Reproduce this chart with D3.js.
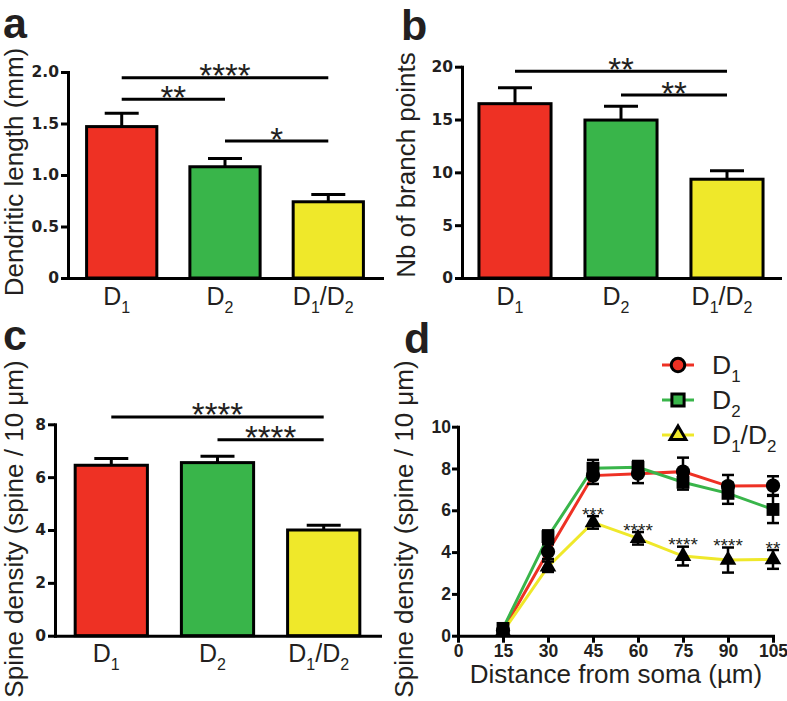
<!DOCTYPE html>
<html>
<head>
<meta charset="utf-8">
<script src="https://cdn.jsdelivr.net/npm/d3@7"></script>
<style>
  body { margin: 0; background: #fff; }
  svg text { font-family: "Liberation Sans", Arial, sans-serif; fill: #231f20; }
  .bartick text { font-family: "DejaVu Sans", sans-serif; font-weight: bold; font-size: 15.5px; }
  .dtick text { font-family: "Liberation Sans", Arial, sans-serif; font-weight: bold; font-size: 17.5px; }
</style>
</head>
<body>
<svg id="fig" width="787" height="701"></svg>
<script>
// groups (label = main letter + subscripts)
const groups = ["D1", "D2", "D1/D2"];
const groupParts = [[["D", 0], ["1", 1]], [["D", 0], ["2", 1]], [["D", 0], ["1", 1], ["/D", 0], ["2", 1]]];
const groupColors = ["#ee3124", "#39b54a", "#efe82a"];

// a - dendritic length (mm)
const lengthMean = [1.47, 1.08, 0.74];
const lengthSem = [0.13, 0.08, 0.07];
const lengthSig = [["D1", "D2", 1.735, "**"], ["D1", "D1/D2", 1.945, "****"], ["D2", "D1/D2", 1.33, "*"]];

// b - branch points
const branchMean = [16.5, 14.95, 9.35];
const branchSem = [1.5, 1.3, 0.8];
const branchSig = [["D1", "D1/D2", 19.58, "**"], ["D2", "D1/D2", 17.31, "**"]];

// c - spine density
const densityMean = [6.45, 6.55, 4.0];
const densitySem = [0.26, 0.24, 0.18];
const densitySig = [["D1", "D1/D2", 8.28, "****"], ["D2", "D1/D2", 7.42, "****"]];

// d - spine density vs distance from soma
const distance = [15, 30, 45, 60, 75, 90, 105];
const d1Density = [0.25, 4.02, 7.66, 7.75, 7.85, 7.16, 7.18];
const d1Sem = [0.15, 0.35, 0.4, 0.45, 0.67, 0.53, 0.45];
const d2Density = [0.35, 4.74, 8.01, 8.06, 7.34, 6.81, 6.04];
const d2Sem = [0.2, 0.3, 0.4, 0.3, 0.35, 0.5, 0.65];
const d12Density = [0.2, 3.3, 5.42, 4.66, 3.81, 3.62, 3.65];
const d12Sem = [0.1, 0.25, 0.3, 0.3, 0.45, 0.6, 0.45];
const distSig = ["", "", "***", "****", "****", "****", "**"];
const distTicks = [0, 15, 30, 45, 60, 75, 90, 105];
const densityTicks = [0, 2, 4, 6, 8, 10];

const svg = d3.select("#fig");

function groupLabel(g, x, y, parts, size) {
    const t = g.append("text").attr("x", x).attr("y", y)
        .attr("text-anchor", "middle").style("font-size", size + "px");
    let sub = false;
    parts.forEach(([s, isSub]) => {
        const ts = t.append("tspan").text(s);
        if (isSub && !sub) { ts.attr("dy", size * 0.32).style("font-size", (size * 0.64) + "px"); sub = true; }
        else if (isSub) { ts.style("font-size", (size * 0.64) + "px"); }
        else if (sub) { ts.attr("dy", -size * 0.32); sub = false; }
    });
    return t;
}

function yTitle(xBase, yMid, txt) {
    svg.append("text")
        .attr("transform", "translate(" + xBase + "," + yMid + ") rotate(-90)")
        .attr("text-anchor", "middle")
        .style("font-size", "26px")
        .text(txt);
}

function panelLetter(x, y, l) {
    svg.append("text").attr("x", x).attr("y", y)
        .style("font-size", "43px").style("font-weight", "bold").text(l);
}

function barPanel(o) {
    const g = svg.append("g");
    const y = d3.scaleLinear().domain([0, o.yMax]).range([o.base, o.top]);
    const x = d3.scalePoint().domain(groups).range([o.left, o.right]).padding(o.pad);
    const bw = x.step() * 0.68;

    // bars
    g.selectAll("rect.bar").data(groups).enter().append("rect")
        .attr("x", d => x(d) - bw / 2)
        .attr("y", (d, i) => y(o.means[i]))
        .attr("width", bw)
        .attr("height", (d, i) => o.base - y(o.means[i]))
        .attr("fill", (d, i) => groupColors[i])
        .attr("stroke", "#000").attr("stroke-width", 3);

    // error bars (upper only)
    groups.forEach((d, i) => {
        const top = y(o.means[i] + o.sems[i]);
        g.append("line").attr("x1", x(d)).attr("x2", x(d))
            .attr("y1", y(o.means[i])).attr("y2", top)
            .attr("stroke", "#000").attr("stroke-width", 3);
        g.append("line").attr("x1", x(d) - 17).attr("x2", x(d) + 17)
            .attr("y1", top).attr("y2", top)
            .attr("stroke", "#000").attr("stroke-width", 3);
    });

    // axes
    const ya = g.append("g").attr("class", "bartick")
        .attr("transform", "translate(" + o.left + ",0)")
        .call(d3.axisLeft(y).tickValues(o.ticks).tickFormat(o.fmt).tickSize(7).tickSizeOuter(0).tickPadding(2));
    const xa = g.append("g")
        .attr("transform", "translate(0," + o.base + ")")
        .call(d3.axisBottom(x).tickSize(0).tickSizeOuter(0).tickFormat(""));
    [ya, xa].forEach(a => {
        a.select(".domain").attr("stroke-width", 3).attr("stroke-linecap", "square");
        a.selectAll(".tick line").attr("stroke-width", 3);
        a.selectAll(".tick text").style("fill", "#231f20");
    });

    // category labels
    groups.forEach((d, i) => groupLabel(g, x(d) - 5, o.labelY, groupParts[i], 25));

    // significance brackets
    o.sigs.forEach(([a, b, v, s]) => {
        const ly = y(v);
        g.append("line").attr("x1", x(a)).attr("x2", x(b))
            .attr("y1", ly).attr("y2", ly)
            .attr("stroke", "#000").attr("stroke-width", 3);
        g.append("text").attr("x", (x(a) + x(b)) / 2).attr("y", ly + 9.5)
            .attr("text-anchor", "middle").style("font-size", "33px").text(s);
    });
}

// ---- a
panelLetter(3, 38, "a");
yTitle(22.5, 172, "Dendritic length (mm)");
barPanel({left: 68, right: 382, base: 278, top: 72, yMax: 2, pad: 0.52,
    ticks: [0, 0.5, 1, 1.5, 2], fmt: d => d === 0 ? "0" : d3.format(".1f")(d),
    means: lengthMean, sems: lengthSem, sigs: lengthSig, labelY: 305});

// ---- b
panelLetter(401, 40, "b");
yTitle(414.5, 165, "Nb of branch points");
barPanel({left: 462, right: 780, base: 278, top: 66.7, yMax: 20, pad: 0.5,
    ticks: [0, 5, 10, 15, 20], fmt: d3.format("d"),
    means: branchMean, sems: branchSem, sigs: branchSig, labelY: 305});

// ---- c
panelLetter(3, 350, "c");
yTitle(22.5, 529, "Spine density (spine / 10 \u03bcm)");
barPanel({left: 55, right: 380, base: 635.7, top: 424.3, yMax: 8, pad: 0.53,
    ticks: [0, 2, 4, 6, 8], fmt: d3.format("d"),
    means: densityMean, sems: densitySem, sigs: densitySig, labelY: 662});

// ---- d
panelLetter(404, 353, "d");
yTitle(412.5, 529, "Spine density (spine / 10 \u03bcm)");
(function () {
    const g = svg.append("g");
    const x = d3.scaleLinear().domain([0, 105]).range([458, 773]);
    const y = d3.scaleLinear().domain([0, 10]).range([635.7, 426.7]);

    const series = [
        {name: groupParts[0], mean: d1Density, sem: d1Sem, color: groupColors[0], sym: d3.symbolCircle, size: 160},
        {name: groupParts[1], mean: d2Density, sem: d2Sem, color: groupColors[1], sym: d3.symbolSquare, size: 165},
        {name: groupParts[2], mean: d12Density, sem: d12Sem, color: groupColors[2], sym: d3.symbolTriangle, size: 120}
    ];

    const line = d3.line().x((d, i) => x(distance[i])).y(d => y(d));
    series.forEach(s => {
        g.append("path").datum(s.mean).attr("d", line)
            .attr("fill", "none").attr("stroke", s.color).attr("stroke-width", 3);
    });
    series.forEach(s => {
        s.mean.forEach((m, i) => {
            const cx = x(distance[i]);
            const y1 = y(m + s.sem[i]), y2 = y(m - s.sem[i]);
            g.append("line").attr("x1", cx).attr("x2", cx).attr("y1", y1).attr("y2", y2)
                .attr("stroke", "#000").attr("stroke-width", 2.5);
            [y1, y2].forEach(yy => g.append("line").attr("x1", cx - 6).attr("x2", cx + 6)
                .attr("y1", yy).attr("y2", yy).attr("stroke", "#000").attr("stroke-width", 2.5));
            g.append("path").attr("d", d3.symbol(s.sym).size(s.size)())
                .attr("transform", "translate(" + cx + "," + y(m) + ")")
                .attr("fill", "#000");
        });
    });

    // stars above D1/D2 points
    distSig.forEach((s, i) => {
        if (!s) return;
        g.append("text").attr("x", x(distance[i])).attr("y", y(d12Density[i] + d12Sem[i]) + 4.7)
            .attr("text-anchor", "middle").style("font-size", "19px").text(s);
    });

    const ya = g.append("g").attr("class", "dtick").attr("transform", "translate(458,0)")
        .call(d3.axisLeft(y).tickValues(densityTicks).tickFormat(d3.format("d")).tickSize(6).tickSizeOuter(0).tickPadding(1));
    const xa = g.append("g").attr("class", "dtick").attr("transform", "translate(0,635.7)")
        .call(d3.axisBottom(x).tickValues(distTicks).tickFormat(d3.format("d")).tickSize(7).tickSizeOuter(0).tickPadding(1.5));
    [ya, xa].forEach(a => {
        a.select(".domain").attr("stroke-width", 3).attr("stroke-linecap", "square");
        a.selectAll(".tick line").attr("stroke-width", 3);
        a.selectAll(".tick text").style("fill", "#231f20");
    });

    g.append("text").attr("x", 616).attr("y", 683).attr("text-anchor", "middle")
        .style("font-size", "26px").text("Distance from soma (\u00b5m)");

    // legend
    const legY = [365, 400, 435];
    series.forEach((s, i) => {
        g.append("line").attr("x1", 662).attr("x2", 694).attr("y1", legY[i]).attr("y2", legY[i])
            .attr("stroke", s.color).attr("stroke-width", 3);
        g.append("path").attr("d", d3.symbol(s.sym).size(s.size * 0.9)())
            .attr("transform", "translate(678," + legY[i] + ")")
            .attr("fill", s.color).attr("stroke", "#000").attr("stroke-width", 3);
        const t = groupLabel(g, 712, legY[i] + 9, s.name, 26.5);
        t.attr("text-anchor", "start");
    });
})();
</script>
</body>
</html>
